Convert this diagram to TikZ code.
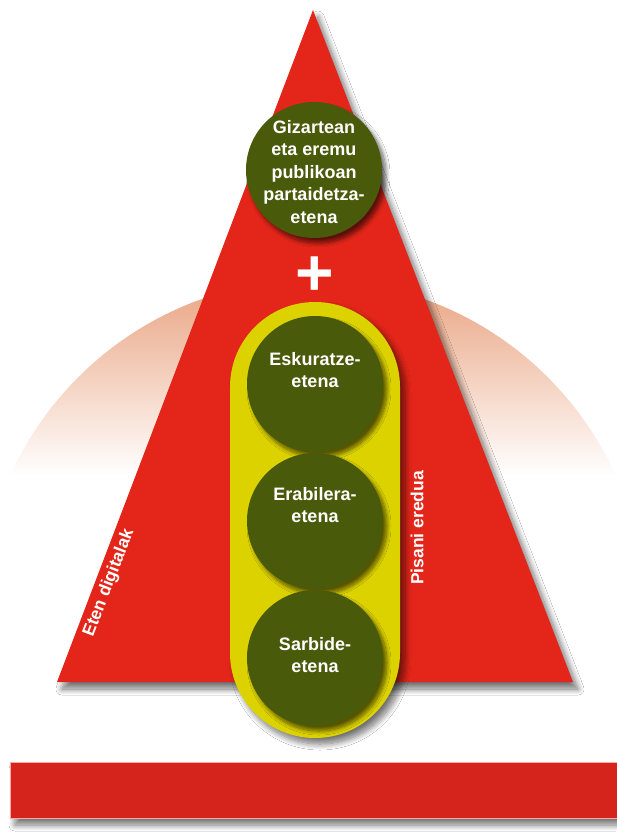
\documentclass[tikz,border=0pt]{standalone}
\usepackage{fontspec}
\setmainfont{Liberation Sans}
\usetikzlibrary{shadows.blur}
\definecolor{trired}{HTML}{E32619}
\definecolor{barred}{HTML}{D4241C}
\definecolor{olivegreen}{HTML}{4A5A0B}
\definecolor{lemon}{HTML}{DCD200}
\definecolor{salmon}{HTML}{E9A27F}
\begin{document}
\begin{tikzpicture}[x=1pt,y=-1pt,
  softshadow/.style={blur shadow={shadow xshift=5pt, shadow yshift=-7pt, shadow blur radius=6pt, shadow blur steps=12, shadow opacity=55}},
  circ/.style={circle, fill=olivegreen, minimum size=136pt, inner sep=0pt,
    blur shadow={shadow xshift=4pt, shadow yshift=-5pt, shadow blur radius=4pt, shadow blur steps=10, shadow opacity=60}},
  lbl/.style={text=white, font=\bfseries\fontsize{18}{22.5}\selectfont, align=center, inner sep=0pt},
  sidelbl/.style={text=white, font=\bfseries\fontsize{17.5}{19}\selectfont, inner sep=0pt}]
\useasboundingbox (0,0) rectangle (616,832);
\fill[white] (0,0) rectangle (616,832);
% dome
\begin{scope}
  \clip (313,612) circle (332pt);
  \shade[top color=salmon, bottom color=white] (0,278) rectangle (616,476);
\end{scope}
% triangle
\fill[trired, softshadow] (313,10) -- (573,682) -- (57,682) -- cycle;
% bottom bar
\fill[barred, draw=red!35!white, line width=0.8pt, softshadow] (10,762) rectangle (618,818);
% yellow stadium
\fill[lemon, blur shadow={shadow xshift=5pt, shadow yshift=-6pt, shadow blur radius=6pt, shadow blur steps=12, shadow opacity=55}, rounded corners=85pt] (230,302) rectangle (400,738);
% circles
\node[circ] (c0) at (314,170) {};
\node[circ] (c1) at (315,384) {};
\node[circ] (c2) at (315,521) {};
\node[circ] (c3) at (315,658) {};
\node[lbl] (t0) at (314,172) {Gizartean\\eta eremu\\publikoan\\partaidetza-\\etena};
\node[lbl] (t1) at (315,370) {Eskuratze-\\etena};
\node[lbl] (t2) at (315,505) {Erabilera-\\etena};
\node[lbl] (t3) at (315,655) {Sarbide-\\etena};
% plus
\node[text=white, font=\bfseries\fontsize{66}{66}\selectfont, inner sep=0pt] (plus) at (315,276) {+};
% side labels
\node[sidelbl, rotate=69.1] (eten) at (109,583) {Eten digitalak};
\node[sidelbl, rotate=90] (pisani) at (417,528) {Pisani eredua};
\end{tikzpicture}
\end{document}
